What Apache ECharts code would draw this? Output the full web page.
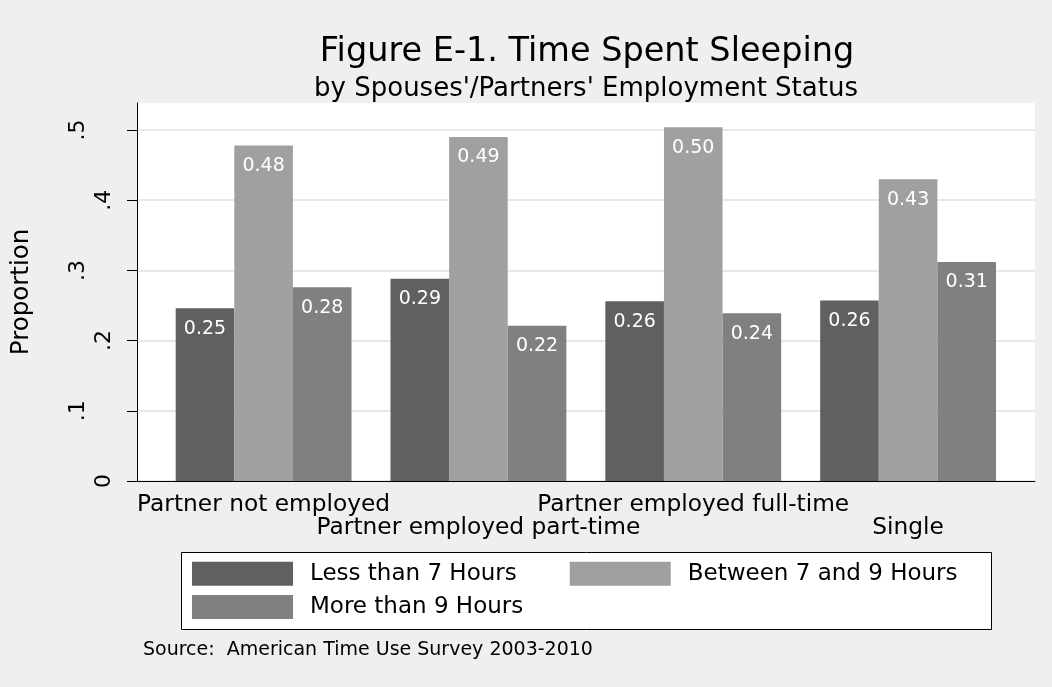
<!DOCTYPE html>
<html><head><meta charset="utf-8">
<script src="https://cdn.jsdelivr.net/npm/echarts@6/dist/echarts.min.js"></script>
<style>html,body{margin:0;padding:0;background:#efefef}#c{width:1052px;height:687px}</style>
</head><body><div id="c"></div>
<script>
const titleText = 'Figure E-1. Time Spent Sleeping';
const subtitleText = "by Spouses'/Partners' Employment Status";
const sourceText = 'Source:  American Time Use Survey 2003-2010';
const categories = ['Partner not employed', 'Partner employed part-time', 'Partner employed full-time', 'Single'];
const seriesNames = ['Less than 7 Hours', 'Between 7 and 9 Hours', 'More than 9 Hours'];
const lessThan7 = [0.246, 0.288, 0.256, 0.257];
const between7and9 = [0.478, 0.490, 0.504, 0.430];
const moreThan9 = [0.276, 0.221, 0.239, 0.312];
const yTickValues = [0, 0.1, 0.2, 0.3, 0.4, 0.5];
const yTickLabels = ['0', '.1', '.2', '.3', '.4', '.5'];
const yAxisName = 'Proportion';

const FONT = '"DejaVu Sans", sans-serif';
const colors = ['#606060', '#a0a0a0', '#808080'];
const yMax = 0.5385;
const tickLabel = v => {
  let best = 0;
  yTickValues.forEach((t, i) => { if (Math.abs(t - v) < Math.abs(yTickValues[best] - v)) best = i; });
  return yTickLabels[best];
};
const nearTicks = yTickValues.filter((v, i) => i % 2 === 0);
const farTicks = yTickValues.filter((v, i) => i % 2 === 1);

const chart = echarts.init(document.getElementById('c'), null, {renderer: 'canvas'});
const seriesData = [lessThan7, between7and9, moreThan9];

chart.setOption({
  backgroundColor: '#efefef',
  animation: false,
  color: colors,
  title: [
    {text: titleText, left: 587, top: 35, textAlign: 'center', padding: 0,
     textStyle: {fontFamily: FONT, fontSize: 33.5, fontWeight: 'normal', color: '#000'}},
    {text: subtitleText, left: 586, top: 76, textAlign: 'center', padding: 0,
     textStyle: {fontFamily: FONT, fontSize: 26, fontWeight: 'normal', color: '#000'}}
  ],
  grid: [
    {left: 137, top: 103, width: 898, height: 378, show: true, backgroundColor: '#ffffff', borderWidth: 0,
     containLabel: false, outerBoundsMode: 'none'},
    {left: 156.2, top: 103, width: 859.3, height: 378, containLabel: false, outerBoundsMode: 'none'}
  ],
  xAxis: [
    {type: 'value', gridIndex: 0, min: 0, max: 1, position: 'bottom',
     axisLine: {show: true, onZero: false, lineStyle: {color: '#000', width: 1}},
     axisTick: {show: false}, axisLabel: {show: false}, splitLine: {show: false}},
    {type: 'category', gridIndex: 1, data: categories, position: 'bottom',
     axisLine: {show: false}, axisTick: {show: false}, splitLine: {show: false},
     axisLabel: {interval: 0, margin: 12.4, fontFamily: FONT, fontSize: 23.3, lineHeight: 23, color: '#000',
       formatter: (v, i) => (i % 2 ? '\n' + v : v)}}
  ],
  yAxis: [
    {type: 'value', gridIndex: 0, position: 'left', min: 0, max: yMax, interval: 0.1,
     name: yAxisName, nameLocation: 'middle', nameGap: 103,
     nameTextStyle: {fontFamily: FONT, fontSize: 24.5, color: '#000'},
     axisLine: {show: true, onZero: false, lineStyle: {color: '#000', width: 1}},
     axisTick: {show: true, length: 10, lineStyle: {color: '#000'}, customValues: yTickValues},
     axisLabel: {rotate: 90, margin: 21.5, fontFamily: FONT, fontSize: 22, color: '#000',
       customValues: nearTicks, formatter: tickLabel},
     splitLine: {show: true, lineStyle: {color: '#e8e8e8', width: 2}}},
    {type: 'value', gridIndex: 0, position: 'left', offset: 0, min: 0, max: yMax, interval: 0.1,
     axisLine: {show: false}, axisTick: {show: false}, splitLine: {show: false},
     axisLabel: {rotate: 90, margin: 47.5, fontFamily: FONT, fontSize: 22, color: '#000',
       customValues: farTicks, formatter: tickLabel}},
    {type: 'value', gridIndex: 1, position: 'left', min: 0, max: yMax, interval: 0.1, show: false}
  ],
  legend: [
    {data: seriesNames.slice(0, 2), left: 192, top: 561.7, padding: 0, itemGap: 53,
     itemWidth: 101, itemHeight: 24, icon: 'rect', orient: 'horizontal',
     textStyle: {fontFamily: FONT, fontSize: 23, color: '#000', padding: [0, 0, 0, 12]}},
    {data: seriesNames.slice(2), left: 192, top: 595, padding: 0,
     itemWidth: 101, itemHeight: 24, icon: 'rect',
     textStyle: {fontFamily: FONT, fontSize: 23, color: '#000', padding: [0, 0, 0, 12]}}
  ],
  graphic: [
    {type: 'rect', z: -10, shape: {x: 181.5, y: 552.5, width: 810, height: 77},
     style: {fill: '#ffffff', stroke: '#000', lineWidth: 1}},
    {type: 'text', left: 143, top: 641,
     style: {text: sourceText, font: '19px "DejaVu Sans", sans-serif', fill: '#000'}}
  ],
  series: seriesNames.map((name, k) => ({
    name, type: 'bar', xAxisIndex: 1, yAxisIndex: 2,
    data: seriesData[k], barGap: '0%', barCategoryGap: '18.16%',
    itemStyle: {color: colors[k]},
    label: {show: true, position: 'insideTop', distance: 11, color: '#fff',
      fontFamily: FONT, fontSize: 19, formatter: p => p.value.toFixed(2)}
  }))
});
</script>
</body></html>
